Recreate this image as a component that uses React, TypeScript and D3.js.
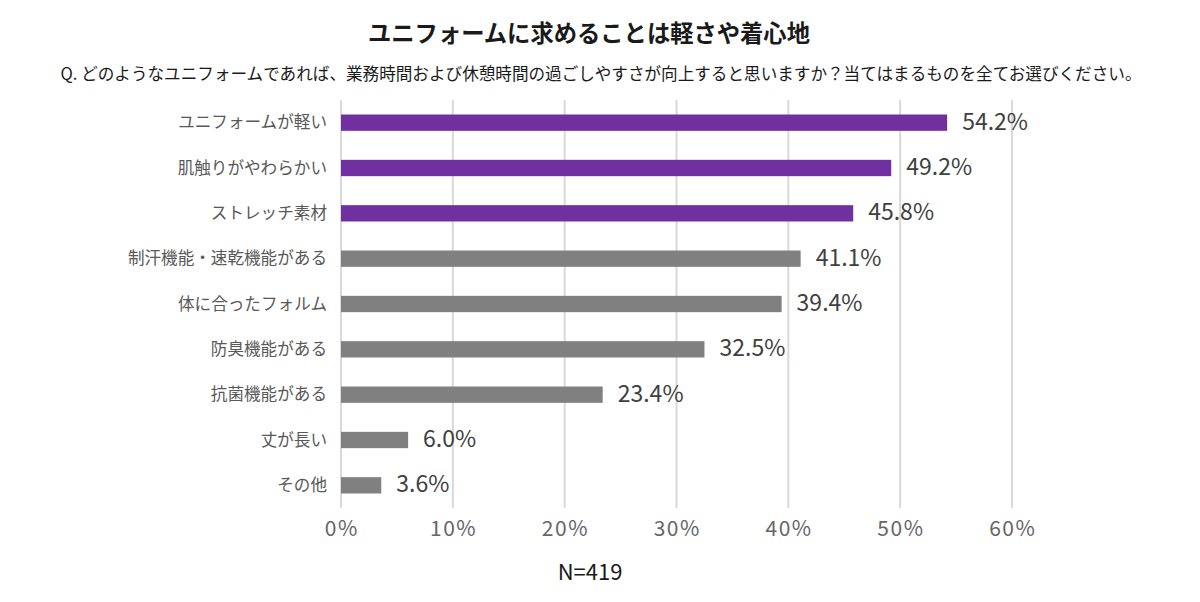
import React from "react";
import * as d3 from "d3";

const categories = [
  "ユニフォームが軽い",
  "肌触りがやわらかい",
  "ストレッチ素材",
  "制汗機能・速乾機能がある",
  "体に合ったフォルム",
  "防臭機能がある",
  "抗菌機能がある",
  "丈が長い",
  "その他",
];
const values = [54.2, 49.2, 45.8, 41.1, 39.4, 32.5, 23.4, 6.0, 3.6];
const highlighted = [true, true, true, false, false, false, false, false, false];
const ticks = [0, 10, 20, 30, 40, 50, 60];
const title = "ユニフォームに求めることは軽さや着心地";
const subtitle =
  "Q. どのようなユニフォームであれば、業務時間および休憩時間の過ごしやすさが向上すると思いますか？当てはまるものを全てお選びください。";
const note = "N=419";

const W = 1200;
const H = 602;
const FONT = "'Noto Sans CJK JP', 'Noto Sans', sans-serif";

export default function App() {
  const x = d3.scaleLinear().domain([0, 60]).range([341, 1012]);
  const y = d3.scaleBand<string>().domain(categories).range([100, 508]).paddingInner(0.64).paddingOuter(0.32);
  const bh = y.bandwidth();
  return (
    <svg
      width={W}
      height={H}
      style={{ position: "absolute", left: 0, top: 0, background: "#fff" }}
      fontFamily={FONT}
    >
      <rect width={W} height={H} fill="#fff" />
      <text x={589} y={42} textAnchor="middle" fontSize={23.3} fontWeight="bold" fill="#1a1a1a">
        {title}
      </text>
      <text x={601} y={80} textAnchor="middle" fontSize={16.6} fill="#1a1a1a">
        {subtitle}
      </text>
      {ticks.map((t) => (
        <g key={t}>
          <line x1={x(t)} x2={x(t)} y1={100} y2={508} stroke="#d9d9d9" strokeWidth={2} />
          <text x={x(t) + 0.75} y={535.5} textAnchor="middle" fontSize={21} letterSpacing={1.5} fill="#666">
            {t}%
          </text>
        </g>
      ))}
      {categories.map((c, i) => {
        const yy = y(c)!;
        return (
          <g key={c}>
            <rect
              x={x(0)}
              y={yy}
              width={x(values[i]) - x(0)}
              height={bh}
              fill={highlighted[i] ? "#7030a0" : "#808080"}
            />
            <text x={327} y={yy + bh / 2} dy="0.35em" textAnchor="end" fontSize={16.6} fill="#595959">
              {c}
            </text>
            <text x={x(values[i]) + 15} y={yy + bh / 2} dy="0.31em" fontSize={23} fill="#404040">
              {values[i].toFixed(1)}%
            </text>
          </g>
        );
      })}
      <text x={590} y={580} textAnchor="middle" fontSize={22} fill="#1a1a1a">
        {note}
      </text>
    </svg>
  );
}
